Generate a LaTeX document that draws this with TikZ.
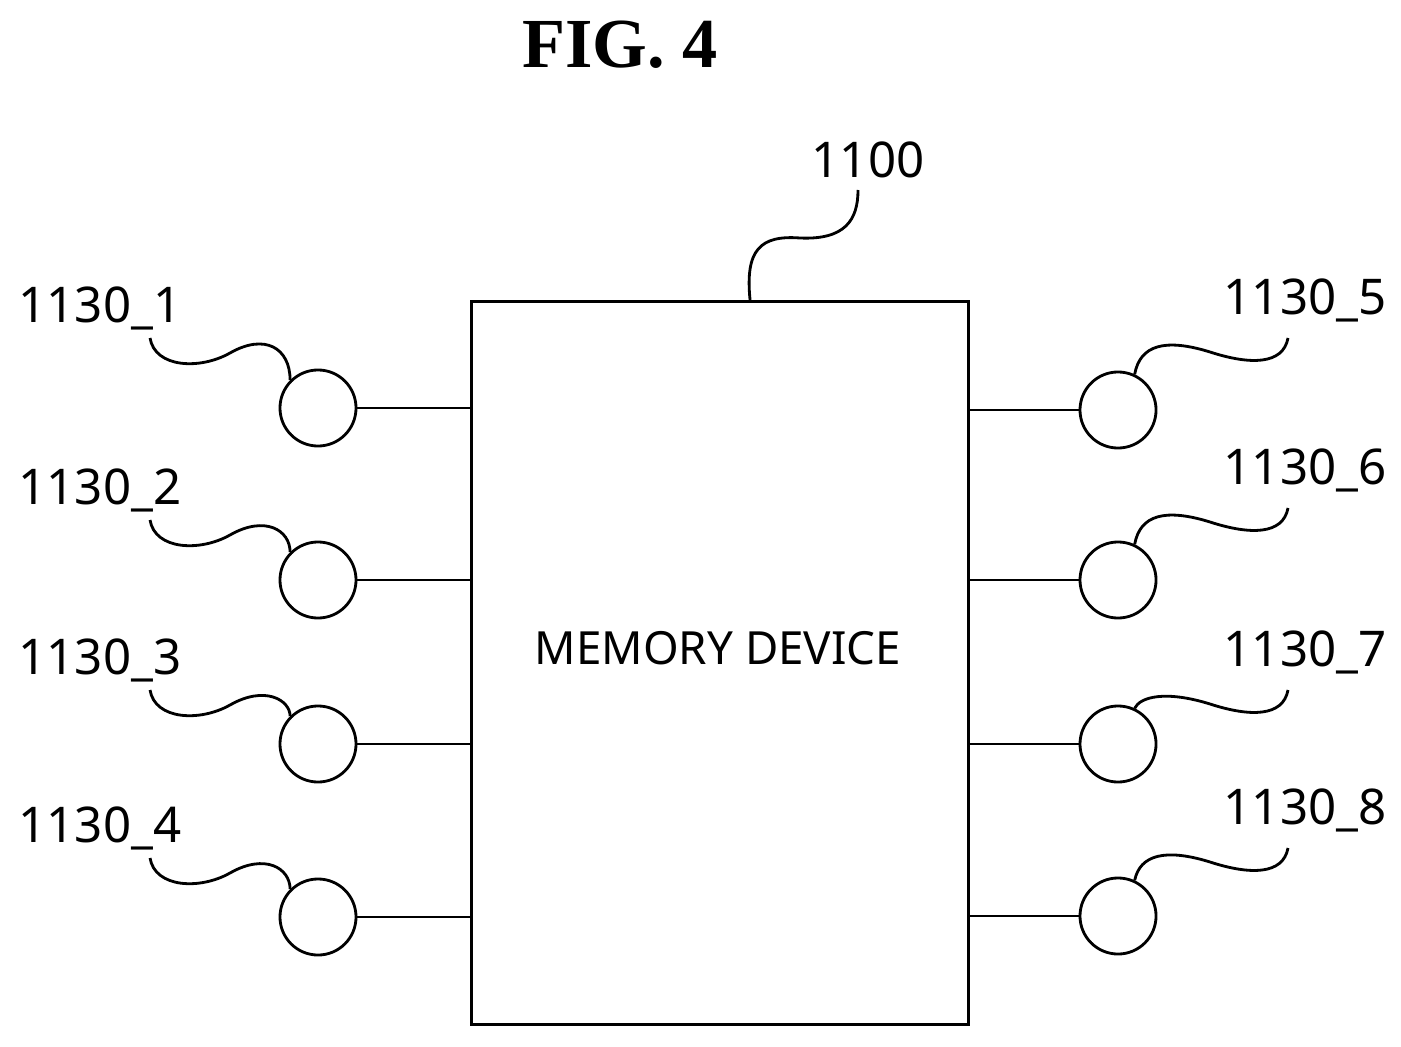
\documentclass[tikz,border=0pt]{standalone}
\usepackage{fontspec}
\setmainfont{Noto Sans}
\newfontfamily\figfont{Liberation Serif}
\begin{document}
\begin{tikzpicture}[x=0.01cm,y=-0.01cm,
 pin/.style={draw,circle,thick,minimum size=0.76cm,inner sep=0pt},
 lbl/.style={font=\fontsize{14}{14}\selectfont,inner sep=0pt}]
 \useasboundingbox (0,0) rectangle (1401,1046);
 \node[font=\figfont\bfseries\fontsize{20}{20}\selectfont] (fig) at (620,45) {FIG. 4};
 \node[draw,thick,minimum width=4.97cm,minimum height=7.23cm,anchor=north west] (dev) at (470,300) {};
 \node[font=\fontsize{13}{13}\selectfont] (name) at (718,648) {MEMORY DEVICE};
 \node[lbl] (num) at (868,160) {1100};
 \draw[thick] (dev.north) ++(30,0) coordinate (top)
   (top) .. controls (745,250) and (760,235) .. (800,238) .. controls (845,240) and (858,220) .. (858,190);
 % left pins
 \foreach \i/\y/\ly in {1/408/308,2/580/490,3/744/660,4/917/828}{
  \node[pin] (p\i) at (318,\y) {};
  \node[lbl] (l\i) at (100,\ly) {1130\_\i};
  \draw[thick] (p\i.east) -- (p\i.east -| dev.west);
  \draw[thick] (150,\ly+30) .. controls (155,\ly+60) and (200,\ly+62) .. (230,\ly+45)
   .. controls (265,\ly+25) and (290,\ly+40) .. (p\i.north west);
 }
 % right pins
 \foreach \i/\y/\ly in {5/410/300,6/580/470,7/744/652,8/916/810}{
  \node[pin] (p\i) at (1118,\y) {};
  \node[lbl] (l\i) at (1305,\ly) {1130\_\i};
  \draw[thick] (p\i.west) -- (p\i.west -| dev.east);
  \draw[thick] (1288,\ly+38) .. controls (1283,\ly+65) and (1250,\ly+65) .. (1210,\ly+52)
   .. controls (1165,\ly+38) and (1140,\ly+45) .. (p\i.65);
 }
\end{tikzpicture}
\end{document}
